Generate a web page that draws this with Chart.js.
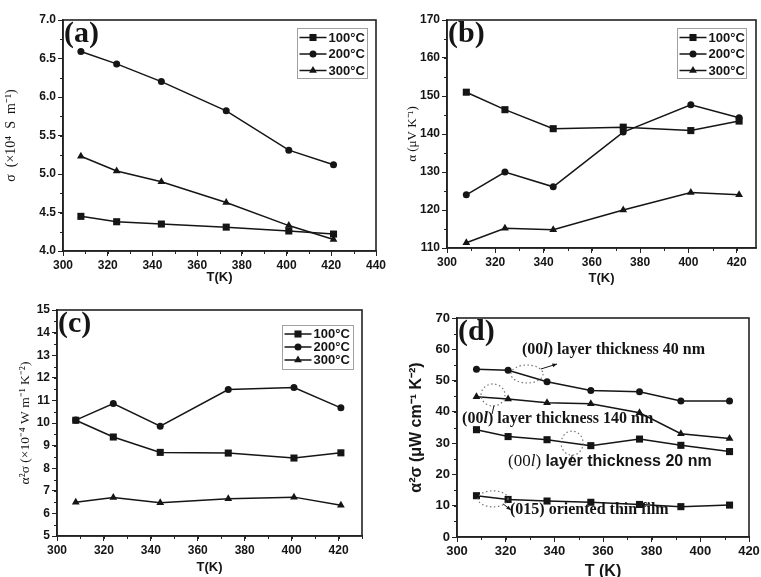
<!DOCTYPE html>
<html>
<head>
<meta charset="utf-8">
<script src="https://cdn.jsdelivr.net/npm/chart.js@4.4.0/dist/chart.umd.min.js"></script>
<style>
  html, body { margin: 0; padding: 0; background: #fff; }
  #wrap { position: relative; width: 761px; height: 577px; overflow: hidden; background: #fff; }
  canvas { position: absolute; }
</style>
</head>
<body>
<div id="wrap">
  <canvas id="chartA" width="395" height="290" style="left:0;top:0"></canvas>
  <canvas id="chartB" width="381" height="290" style="left:380px;top:0"></canvas>
  <canvas id="chartC" width="380" height="287" style="left:0;top:290px"></canvas>
  <canvas id="chartD" width="390" height="287" style="left:380px;top:290px"></canvas>
</div>
<script>
// Panels (a)-(c): annealing temperature series
const tempABC = [308, 324, 344, 373, 401, 421];
const legendLabels = ["100°C", "200°C", "300°C"];

const sigma100 = [4.45, 4.38, 4.35, 4.31, 4.26, 4.22];
const sigma200 = [6.59, 6.43, 6.20, 5.82, 5.31, 5.12];
const sigma300 = [5.23, 5.04, 4.90, 4.63, 4.33, 4.15];

const seebeck100 = [151.0, 146.4, 141.4, 141.8, 140.9, 143.4];
const seebeck200 = [124.0, 130.0, 126.1, 140.5, 147.7, 144.3];
const seebeck300 = [111.4, 115.2, 114.8, 120.0, 124.6, 124.0];

const power100 = [10.12, 9.38, 8.70, 8.67, 8.45, 8.68];
const power200 = [10.13, 10.86, 9.86, 11.48, 11.57, 10.67];
const power300 = [6.49, 6.70, 6.47, 6.65, 6.72, 6.36];

// Panel (d): layer thickness series
const tempD = [308, 321, 337, 355, 375, 392, 412];
const pf40nm = [53.6, 53.3, 49.6, 46.8, 46.4, 43.5, 43.5];
const pf140nm = [44.8, 44.1, 42.9, 42.6, 39.7, 33.0, 31.5];
const pf20nm = [34.3, 32.1, 31.1, 29.2, 31.3, 29.3, 27.3];
const pf015 = [13.2, 12.0, 11.5, 11.1, 10.4, 9.7, 10.2];

const INK = "#151515";
const SANS = '"Liberation Sans", Arial, sans-serif';
const SERIF = '"Liberation Serif", "Times New Roman", serif';

function series(label, xs, ys, shape, r) {
  return {
    label,
    data: xs.map((x, i) => ({ x, y: ys[i] })),
    pointStyle: shape,
    pointRadius: r,
    pointHoverRadius: r,
    pointBorderWidth: 0,
    borderColor: INK,
    backgroundColor: INK,
    pointBackgroundColor: INK,
    borderWidth: 1.5,
    tension: 0
  };
}

// frame on all four sides plus short minor ticks (Origin style)
function framePlugin(minorX, minorY) {
  return {
    id: "frame",
    afterDraw(chart) {
      const { ctx, chartArea: a, scales: { x, y } } = chart;
      ctx.save();
      ctx.strokeStyle = "#222";
      ctx.lineWidth = 1.6;
      ctx.strokeRect(a.left, a.top, a.right - a.left, a.bottom - a.top);
      ctx.lineWidth = 1;
      ctx.beginPath();
      for (let i = 0; x.min + i * minorX <= x.max + 1e-9; i++) {
        const p = Math.round(x.getPixelForValue(x.min + i * minorX)) + 0.5;
        ctx.moveTo(p, a.bottom);
        ctx.lineTo(p, a.bottom + 3);
      }
      for (let i = 0; y.min + i * minorY <= y.max + 1e-9; i++) {
        const p = Math.round(y.getPixelForValue(y.min + i * minorY)) + 0.5;
        ctx.moveTo(a.left, p);
        ctx.lineTo(a.left - 3, p);
      }
      ctx.stroke();
      ctx.restore();
    }
  };
}

function tagPlugin(text) {
  return {
    id: "tag",
    afterDraw(chart) {
      const { ctx, chartArea: a } = chart;
      ctx.save();
      ctx.fillStyle = INK;
      ctx.font = "bold 30px " + SERIF;
      ctx.textBaseline = "top";
      ctx.fillText(text, a.left + 1, a.top - 1);
      ctx.restore();
    }
  };
}

function legendPlugin(box) {
  return {
    id: "boxLegend",
    afterDraw(chart) {
      const { ctx, chartArea: a } = chart;
      const x0 = Math.round(a.right - box.dx - box.w) + 0.5;
      const y0 = Math.round(a.top + box.dy) + 0.5;
      ctx.save();
      ctx.strokeStyle = "#a0a0a0";
      ctx.lineWidth = 1;
      ctx.strokeRect(x0, y0, box.w, box.h);
      chart.data.datasets.forEach((ds, i) => {
        const yy = y0 + box.row0 + i * box.rowH;
        ctx.strokeStyle = INK;
        ctx.fillStyle = INK;
        ctx.lineWidth = 1.5;
        ctx.beginPath();
        ctx.moveTo(x0 + 2, yy);
        ctx.lineTo(x0 + 29, yy);
        ctx.stroke();
        Chart.helpers.drawPoint(ctx, { pointStyle: ds.pointStyle, radius: ds.pointRadius, rotation: 0, borderWidth: 0 }, x0 + 15.5, yy);
        ctx.font = "bold 13px " + SANS;
        ctx.textBaseline = "middle";
        ctx.fillText(ds.label, x0 + 31, yy + 0.5);
      });
      ctx.restore();
    }
  };
}

function axes(o) {
  const tickFont = { family: SANS, weight: "bold", size: o.tickSize };
  return {
    x: {
      type: "linear",
      min: o.xMin, max: o.xMax,
      afterFit: s => { s.height = o.xH; },
      border: { display: true, color: "#222", width: 1.6 },
      grid: { drawOnChartArea: false, drawTicks: true, tickLength: 5, color: "#222", lineWidth: 1 },
      ticks: { stepSize: 20, includeBounds: false, color: INK, font: tickFont, padding: 2, maxRotation: 0 },
      title: { display: true, text: o.xTitle, color: INK, font: o.xTitleFont, padding: { top: 0, bottom: o.xTitlePad } }
    },
    y: {
      min: o.yMin, max: o.yMax,
      afterFit: s => { s.width = o.yW; },
      border: { display: true, color: "#222", width: 1.6 },
      grid: { drawOnChartArea: false, drawTicks: true, tickLength: 5, color: "#222", lineWidth: 1 },
      ticks: { stepSize: o.yStep, color: INK, font: tickFont, padding: 2, callback: v => v.toFixed(o.yDec) },
      title: { display: true, text: o.yTitle, color: INK, font: o.yTitleFont, padding: { top: o.yTitlePad, bottom: 0 } }
    }
  };
}

function baseOptions(pad, scales) {
  return {
    responsive: false,
    animation: false,
    layout: { padding: pad },
    plugins: { legend: { display: false }, tooltip: { enabled: false } },
    scales
  };
}

// (a) electrical conductivity
new Chart(document.getElementById("chartA"), {
  type: "line",
  data: {
    datasets: [
      series(legendLabels[0], tempABC, sigma100, "rect", 5),
      series(legendLabels[1], tempABC, sigma200, "circle", 3.5),
      series(legendLabels[2], tempABC, sigma300, "triangle", 4.5)
    ]
  },
  options: baseOptions({ left: 0, top: 20, right: 19, bottom: 0 }, axes({
    xMin: 300, xMax: 440, xH: 39, tickSize: 12, xTitle: "T(K)",
    xTitleFont: { family: SANS, weight: "bold", size: 13 }, xTitlePad: 5,
    yMin: 4, yMax: 7, yStep: 0.5, yDec: 1, yW: 63,
    yTitle: "σ\u2002(×10⁴\u2002S\u2002m⁻¹)", yTitleFont: { family: SERIF, size: 14 }, yTitlePad: 3
  })),
  plugins: [framePlugin(10, 0.25), tagPlugin("(a)"), legendPlugin({ dx: 9, dy: 8, w: 70, h: 50, row0: 9, rowH: 16.5 })]
});

// (b) Seebeck coefficient
new Chart(document.getElementById("chartB"), {
  type: "line",
  data: {
    datasets: [
      series(legendLabels[0], tempABC, seebeck100, "rect", 5),
      series(legendLabels[1], tempABC, seebeck200, "circle", 3.5),
      series(legendLabels[2], tempABC, seebeck300, "triangle", 4.5)
    ]
  },
  options: baseOptions({ left: 0, top: 20, right: 4, bottom: 0 }, axes({
    xMin: 300, xMax: 428, xH: 42, tickSize: 12, xTitle: "T(K)",
    xTitleFont: { family: SANS, weight: "bold", size: 13 }, xTitlePad: 4,
    yMin: 110, yMax: 170, yStep: 10, yDec: 0, yW: 67,
    yTitle: "α (μV K⁻¹)", yTitleFont: { family: SERIF, size: 13 }, yTitlePad: 25
  })),
  plugins: [framePlugin(10, 5), tagPlugin("(b)"), legendPlugin({ dx: 10, dy: 8, w: 69, h: 50, row0: 9, rowH: 16.5 })]
});

// (c) power factor vs annealing temperature
new Chart(document.getElementById("chartC"), {
  type: "line",
  data: {
    datasets: [
      series(legendLabels[0], tempABC, power100, "rect", 5),
      series(legendLabels[1], tempABC, power200, "circle", 3.5),
      series(legendLabels[2], tempABC, power300, "triangle", 4.5)
    ]
  },
  options: baseOptions({ left: 0, top: 20, right: 18, bottom: 0 }, axes({
    xMin: 300, xMax: 430, xH: 41, tickSize: 12, xTitle: "T(K)",
    xTitleFont: { family: SANS, weight: "bold", size: 13 }, xTitlePad: 2,
    yMin: 5, yMax: 15, yStep: 1, yDec: 0, yW: 57,
    yTitle: "α²σ (×10⁻⁴ W m⁻¹ K⁻²)", yTitleFont: { family: SERIF, size: 13.5 }, yTitlePad: 17
  })),
  plugins: [framePlugin(10, 0.5), tagPlugin("(c)"), legendPlugin({ dx: 9, dy: 15, w: 71, h: 44, row0: 8.5, rowH: 13 })]
});

// (d) power factor vs layer thickness, with hand annotations
const notesD = [
  { x: 326.7, y: 59.8, parts: [["(00", "bold 16px " + SERIF], ["l", "italic bold 16px " + SERIF], [") layer thickness 40 nm", "bold 16px " + SERIF]] },
  { x: 302.1, y: 37.7, parts: [["(00", "bold 16px " + SERIF], ["l", "italic bold 16px " + SERIF], [") layer thickness 140 nm", "bold 16px " + SERIF]] },
  { x: 321.0, y: 24.0, parts: [["(00", "17px " + SERIF], ["l", "italic 17px " + SERIF], [") ", "17px " + SERIF], ["layer thickness 20 nm", "bold 16px " + SANS]] },
  { x: 321.8, y: 8.6, parts: [["(015) ", "bold 16px " + SERIF], ["oriented thin film", "bold 16px " + SERIF]] }
];
const ringsD = [
  { x: 328.8, y: 52.1, rx: 16, ry: 9 },
  { x: 314.8, y: 45.4, rx: 12, ry: 11 },
  { x: 347.3, y: 30.0, rx: 11, ry: 12 },
  { x: 314.8, y: 12.2, rx: 15, ry: 8 }
];
const pointersD = [
  { from: [334.5, 53.7], to: [341.1, 55.3], head: true },
  { from: [315.2, 42.0], to: [314.4, 39.3], head: false },
  { from: [347.3, 26.2], to: [346.9, 24.0], head: false },
  { from: [318.9, 10.6], to: [322.2, 8.6], head: true }
];

const notesPlugin = {
  id: "notes",
  afterDatasetsDraw(chart) {
    const { ctx, scales: { x, y } } = chart;
    ctx.save();
    ctx.fillStyle = INK;
    ctx.textBaseline = "middle";
    notesD.forEach(n => {
      let px = x.getPixelForValue(n.x);
      const py = y.getPixelForValue(n.y);
      n.parts.forEach(([t, f]) => {
        ctx.font = f;
        ctx.fillText(t, px, py);
        px += ctx.measureText(t).width;
      });
    });
    ctx.strokeStyle = "#777";
    ctx.lineWidth = 1.2;
    ctx.setLineDash([1.5, 2.5]);
    ringsD.forEach(r => {
      ctx.beginPath();
      ctx.ellipse(x.getPixelForValue(r.x), y.getPixelForValue(r.y), r.rx, r.ry, 0, 0, Math.PI * 2);
      ctx.stroke();
    });
    ctx.setLineDash([]);
    ctx.strokeStyle = INK;
    ctx.lineWidth = 1;
    pointersD.forEach(p => {
      const x1 = x.getPixelForValue(p.from[0]), y1 = y.getPixelForValue(p.from[1]);
      const x2 = x.getPixelForValue(p.to[0]), y2 = y.getPixelForValue(p.to[1]);
      ctx.beginPath();
      ctx.moveTo(x1, y1);
      ctx.lineTo(x2, y2);
      ctx.stroke();
      if (p.head) {
        const ang = Math.atan2(y2 - y1, x2 - x1);
        ctx.beginPath();
        ctx.moveTo(x2, y2);
        ctx.lineTo(x2 - 5 * Math.cos(ang - 0.4), y2 - 5 * Math.sin(ang - 0.4));
        ctx.lineTo(x2 - 5 * Math.cos(ang + 0.4), y2 - 5 * Math.sin(ang + 0.4));
        ctx.closePath();
        ctx.fill();
      }
    });
    ctx.restore();
  }
};

new Chart(document.getElementById("chartD"), {
  type: "line",
  data: {
    datasets: [
      series("(00l) 40 nm", tempD, pf40nm, "circle", 3.5),
      series("(00l) 140 nm", tempD, pf140nm, "triangle", 4.5),
      series("(00l) 20 nm", tempD, pf20nm, "rect", 5),
      series("(015) film", tempD, pf015, "rect", 5)
    ]
  },
  options: baseOptions({ left: 0, top: 28, right: 21, bottom: 0 }, axes({
    xMin: 300, xMax: 420, xH: 40, tickSize: 13, xTitle: "T (K)",
    xTitleFont: { family: SANS, weight: "bold", size: 16 }, xTitlePad: -4,
    yMin: 0, yMax: 70, yStep: 10, yDec: 0, yW: 77,
    yTitle: "α²σ (μW cm⁻¹ K⁻²)", yTitleFont: { family: SANS, weight: "bold", size: 16 }, yTitlePad: 27
  })),
  plugins: [framePlugin(10, 5), tagPlugin("(d)"), notesPlugin]
});
</script>
</body>
</html>
